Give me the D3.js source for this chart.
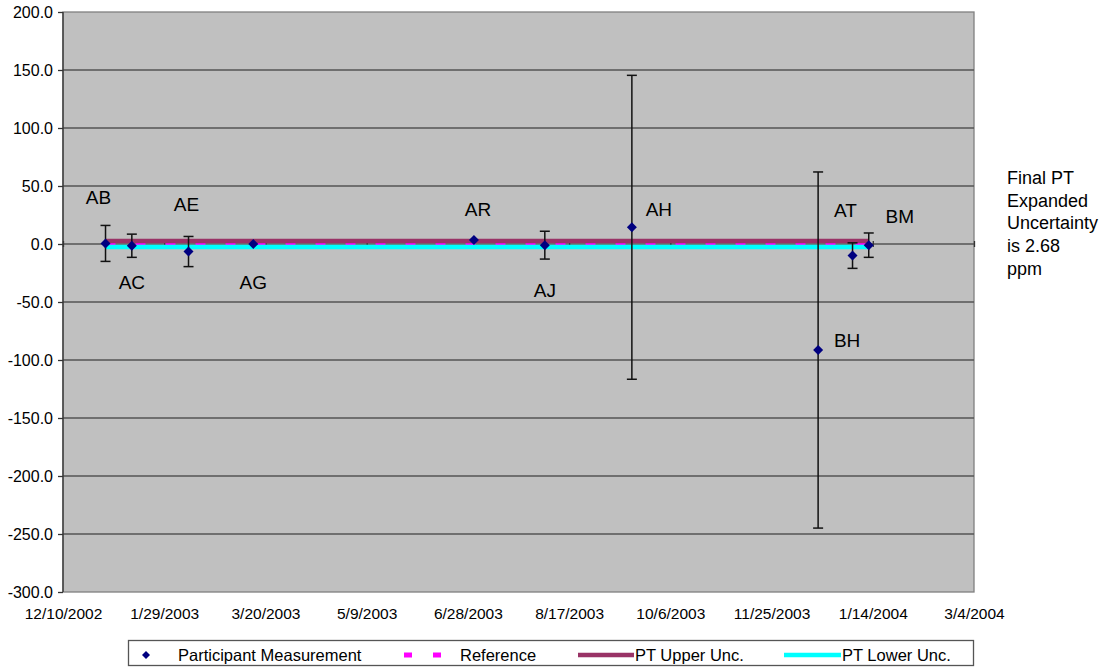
<!DOCTYPE html>
<html>
<head>
<meta charset="utf-8">
<script src="https://cdn.jsdelivr.net/npm/d3@7"></script>
<style>
  body { margin: 0; background: #fff; }
  svg { display: block; font-family: Arial, "Liberation Sans", sans-serif; }
  .grid line { stroke: #555; stroke-width: 1.3; }
  .axis text { font-size: 15.5px; fill: #000; font-family: Arial, "Liberation Sans", sans-serif; }
  .axis.y text { font-size: 16px; }
</style>
</head>
<body>
<div class="chart"></div>
<script>
// participant labels, measurement dates, deviation (ppm) and expanded uncertainty
var labels = ['AB', 'AC', 'AE', 'AG', 'AR', 'AJ', 'AH', 'BH', 'AT', 'BM'];
var dates = ['2002-12-31', '2003-01-13', '2003-02-10', '2003-03-14', '2003-07-01',
             '2003-08-05', '2003-09-17', '2003-12-18', '2004-01-04', '2004-01-12'];
var values = [0.5, -1.5, -6.5, 0.0, 3.5, -1.0, 14.4, -91.4, -10.0, -1.0];
var uncertainty = [15.5, 10.0, 13.0, 0, 0, 12.0, 131.0, 153.5, 11.0, 10.5];

var reference = 0;
var ptUnc = 2.68;

var xTicks = ['2002-12-10', '2003-01-29', '2003-03-20', '2003-05-09', '2003-06-28',
              '2003-08-17', '2003-10-06', '2003-11-25', '2004-01-14', '2004-03-04'];
var yTicks = [200, 150, 100, 50, 0, -50, -100, -150, -200, -250, -300];

// where each data label sits relative to its point (px)
var labelOffset = [[-7, -46], [0, 36], [-2, -47], [0, 38], [4, -31],
                   [0, 45], [27, -18], [29, -10], [-7, -45], [31, -29]];

var width = 1118, height = 668;
var margin = {top: 12, left: 63, right: 144, bottom: 76};
var parse = d3.utcParse('%Y-%m-%d');
var fmt = d3.utcFormat('%-m/%-d/%Y');
var yFmt = function(d) { return d3.format('.1f')(d).replace('\u2212', '-'); };

var data = labels.map(function(d, i) {
    return {name: d, date: parse(dates[i]), value: values[i], unc: uncertainty[i], off: labelOffset[i]};
});

var svg = d3.select('.chart').append('svg')
    .attr('width', width)
    .attr('height', height);

var x = d3.scaleUtc()
    .domain([parse(xTicks[0]), parse(xTicks[xTicks.length - 1])])
    .range([margin.left, width - margin.right]);

var y = d3.scaleLinear()
    .domain([-300, 200])
    .range([height - margin.bottom, margin.top]);

// plot area
svg.append('rect')
    .attr('x', x.range()[0])
    .attr('y', y(200))
    .attr('width', x.range()[1] - x.range()[0])
    .attr('height', y(-300) - y(200))
    .attr('fill', '#c0c0c0')
    .attr('stroke', '#808080')
    .attr('stroke-width', 1.3);

svg.append('g')
    .attr('class', 'grid')
    .selectAll('line')
    .data(yTicks.filter(function(d) { return d !== -300 && d !== 200; }))
    .enter()
    .append('line')
    .attr('x1', x.range()[0])
    .attr('x2', x.range()[1])
    .attr('y1', function(d) { return y(d); })
    .attr('y2', function(d) { return y(d); });

// y axis
var yAxis = svg.append('g')
    .attr('class', 'axis y')
    .attr('transform', 'translate(' + margin.left + ',0)')
    .call(d3.axisLeft(y)
        .tickValues(yTicks)
        .tickSize(5)
        .tickPadding(5)
        .tickFormat(yFmt));
yAxis.selectAll('.domain, .tick line').attr('stroke', '#333').attr('stroke-width', 1.3);
yAxis.select('.domain').attr('d', 'M0,' + y(200) + 'V' + y(-300));
yAxis.selectAll('.tick text').attr('dy', '0.36em');

// x axis crosses at zero, labels kept at the bottom
var xAxis = svg.append('g')
    .attr('class', 'axis')
    .attr('transform', 'translate(0,' + y(0) + ')')
    .call(d3.axisBottom(x)
        .tickValues(xTicks.map(parse))
        .tickSizeInner(3)
        .tickSizeOuter(0)
        .tickFormat(fmt));
xAxis.selectAll('.domain').remove();
xAxis.selectAll('.tick line').attr('stroke', '#333').attr('y1', -3).attr('stroke-width', 1.3);
xAxis.selectAll('.tick text')
    .attr('y', y(-300) - y(0) + 27)
    .attr('dy', 0);

// reference and PT uncertainty lines span the measurement period
var x0 = x(data[0].date), x1 = x(data[data.length - 1].date);

svg.append('line')
    .attr('x1', x0).attr('x2', x1)
    .attr('y1', y(reference)).attr('y2', y(reference))
    .attr('stroke', '#ff00ff')
    .attr('stroke-width', 3)
    .attr('stroke-dasharray', '10,20');

svg.append('line')
    .attr('x1', x0).attr('x2', x1)
    .attr('y1', y(ptUnc)).attr('y2', y(ptUnc))
    .attr('stroke', '#993366')
    .attr('stroke-width', 4.5);

svg.append('line')
    .attr('x1', x0).attr('x2', x1)
    .attr('y1', y(-ptUnc)).attr('y2', y(-ptUnc))
    .attr('stroke', '#00ffff')
    .attr('stroke-width', 4.5);

// error bars
var bars = svg.append('g')
    .attr('stroke', '#111')
    .attr('stroke-width', 1.5)
    .selectAll('g')
    .data(data.filter(function(d) { return d.unc > 0; }))
    .enter()
    .append('g');

bars.append('line')
    .attr('x1', function(d) { return x(d.date); })
    .attr('x2', function(d) { return x(d.date); })
    .attr('y1', function(d) { return y(d.value + d.unc); })
    .attr('y2', function(d) { return y(d.value - d.unc); });

[1, -1].forEach(function(s) {
    bars.append('line')
        .attr('x1', function(d) { return x(d.date) - 5; })
        .attr('x2', function(d) { return x(d.date) + 5; })
        .attr('y1', function(d) { return y(d.value + s * d.unc); })
        .attr('y2', function(d) { return y(d.value + s * d.unc); });
});

// markers
var diamond = d3.symbol().type(d3.symbolSquare).size(50);

svg.append('g')
    .selectAll('path')
    .data(data)
    .enter()
    .append('path')
    .attr('d', diamond)
    .attr('fill', '#000080')
    .attr('transform', function(d) { return 'translate(' + x(d.date) + ',' + y(d.value) + ') rotate(45)'; });

svg.append('g')
    .selectAll('text')
    .data(data)
    .enter()
    .append('text')
    .attr('x', function(d) { return x(d.date) + d.off[0]; })
    .attr('y', function(d) { return y(d.value) + d.off[1]; })
    .attr('dy', '0.36em')
    .attr('text-anchor', 'middle')
    .attr('font-size', 19)
    .text(function(d) { return d.name; });

// note on the right
var note = ['Final PT', 'Expanded', 'Uncertainty', 'is 2.68', 'ppm'];
svg.append('text')
    .attr('x', 1007)
    .attr('y', 184)
    .attr('font-size', 18)
    .selectAll('tspan')
    .data(note)
    .enter()
    .append('tspan')
    .attr('x', 1007)
    .attr('dy', function(d, i) { return i ? 22.7 : 0; })
    .text(function(d) { return d; });

// legend
var lg = svg.append('g');
lg.append('rect')
    .attr('x', 128.5).attr('y', 640.5)
    .attr('width', 845).attr('height', 25)
    .attr('fill', '#fff')
    .attr('stroke', '#555')
    .attr('stroke-width', 1.3);

var ly = 655;
lg.append('path')
    .attr('d', d3.symbol().type(d3.symbolSquare).size(32))
    .attr('fill', '#000080')
    .attr('transform', 'translate(146,' + ly + ') rotate(45)');
lg.append('line')
    .attr('x1', 404).attr('x2', 442)
    .attr('y1', ly).attr('y2', ly)
    .attr('stroke', '#ff00ff').attr('stroke-width', 5)
    .attr('stroke-dasharray', '8,21');
lg.append('line')
    .attr('x1', 578).attr('x2', 634)
    .attr('y1', ly).attr('y2', ly)
    .attr('stroke', '#993366').attr('stroke-width', 4.5);
lg.append('line')
    .attr('x1', 784).attr('x2', 841)
    .attr('y1', ly).attr('y2', ly)
    .attr('stroke', '#00ffff').attr('stroke-width', 4.5);

var legendText = [[178, 'Participant Measurement'], [460, 'Reference'], [635, 'PT Upper Unc.'], [842, 'PT Lower Unc.']];
lg.selectAll('text.lt')
    .data(legendText)
    .enter()
    .append('text')
    .attr('class', 'lt')
    .attr('x', function(d) { return d[0]; })
    .attr('y', ly)
    .attr('dy', '0.36em')
    .attr('font-size', 16.5)
    .text(function(d) { return d[1]; });
</script>
</body>
</html>
